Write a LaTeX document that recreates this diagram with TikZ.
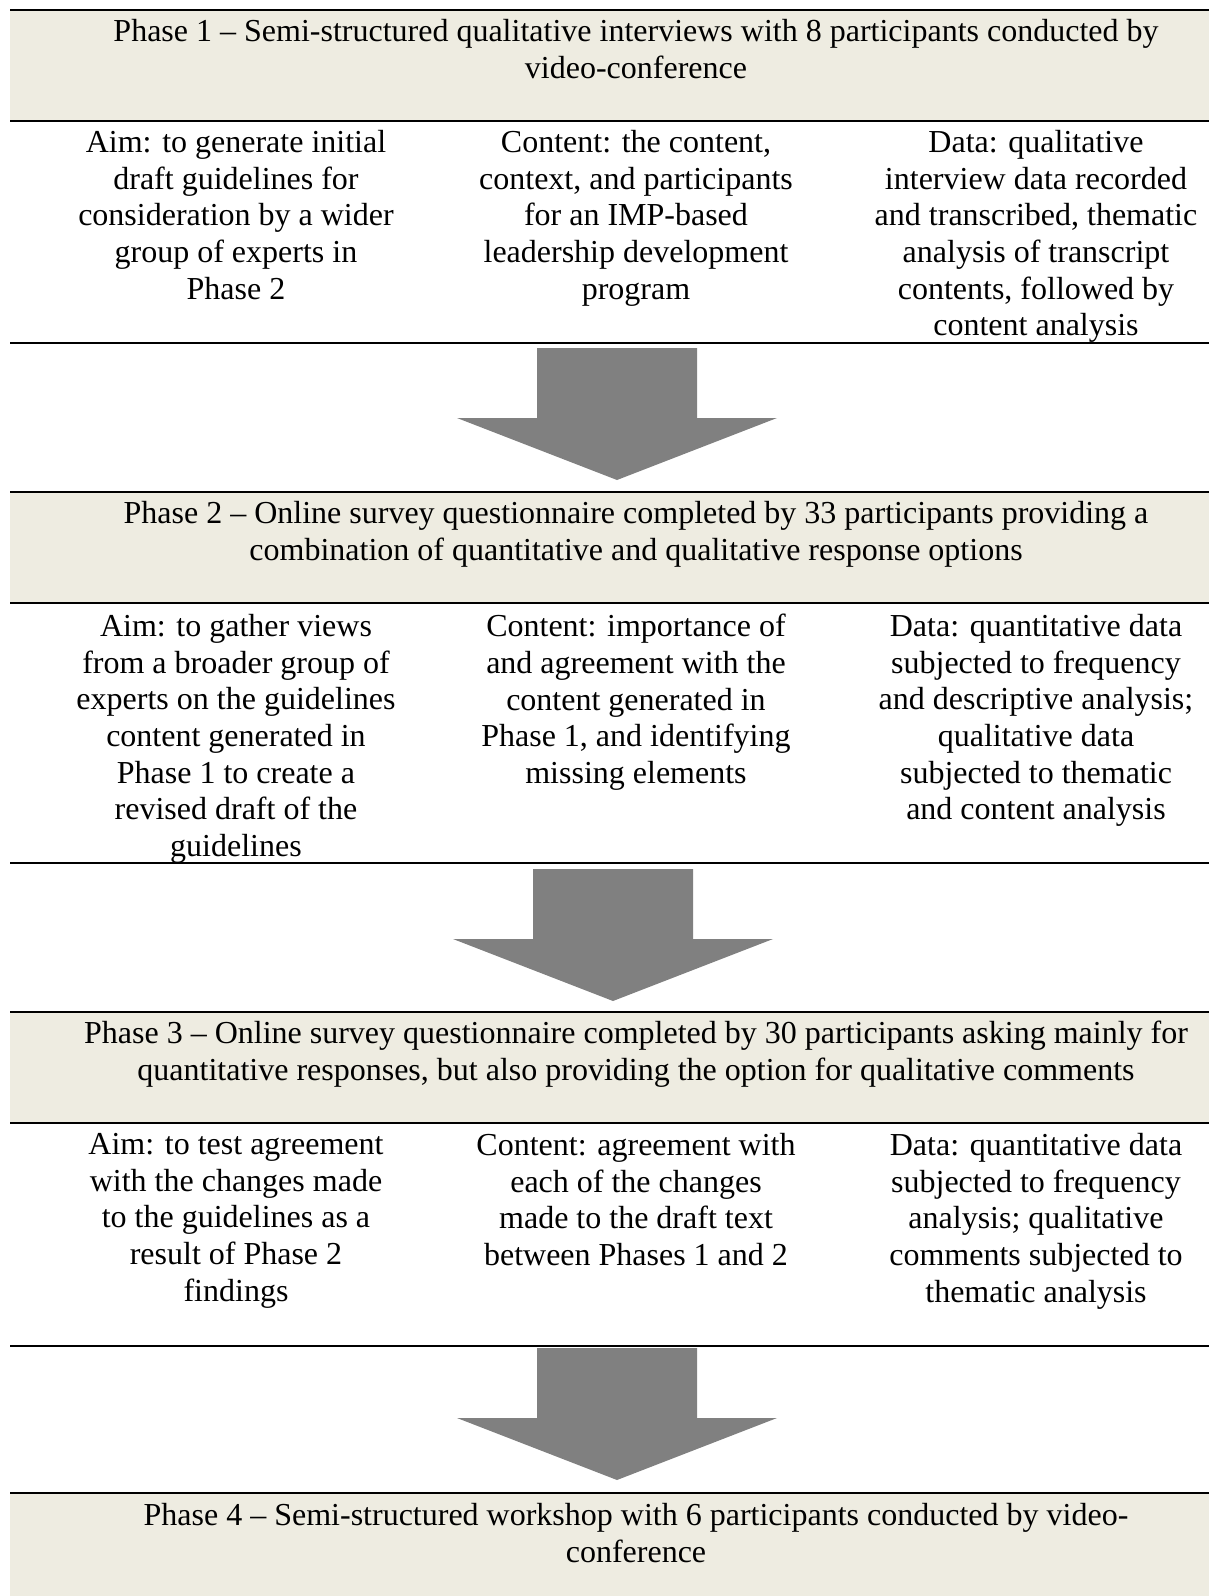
\documentclass[tikz,border=0pt]{standalone}
\usepackage{fontspec}
\setmainfont{Liberation Serif}
\usepackage{xcolor}
\usepackage{tikz}
\definecolor{bandbg}{HTML}{EEECE1}
\definecolor{arrowgray}{HTML}{808080}
\tikzset{
  cell/.style={anchor=north, align=center, inner sep=0pt,
    font=\fontsize{32}{36.7}\selectfont, execute at begin node=\strut},
  tablerule/.style={line width=2.5pt},
  blockarrow/.style={fill=arrowgray}
}

\begin{document}
\begin{tikzpicture}[x=1pt,y=-1pt]
        \useasboundingbox (0,0) rectangle (1209,1596);
        % shaded phase bands
    \foreach \t/\b in {10/121,492/603,1012/1123,1493/1596}
    \fill[bandbg] (10,\t) rectangle (1209,\b);
        % draw horizontal lines
    \foreach \y in {10,121,343,492,603,863,1012,1123,1346,1493}
    \draw[tablerule] (10,\y) -- (1209,\y);
        % block arrows between phases
    \foreach \cx/\ty in {617/348,613/869,617/1348}
    \fill[blockarrow] (\cx-80,\ty) -- (\cx+80,\ty) -- (\cx+80,\ty+70) -- (\cx+160,\ty+70)
      -- (\cx,\ty+132) -- (\cx-160,\ty+70) -- (\cx-80,\ty+70) -- cycle;
        % phase 1
    \node[cell] (head1) at (636,19) {Phase 1 – Semi-structured qualitative interviews with 8 participants conducted by\\video-conference};
    \node[cell] (aim1) at (236,130) {Aim: to generate initial\\draft guidelines for\\consideration by a wider\\group of experts in\\Phase 2};
    \node[cell] (content1) at (636,130) {Content: the content,\\context, and participants\\for an IMP-based\\leadership development\\program};
    \node[cell] (data1) at (1036,130) {Data: qualitative\\interview data recorded\\and transcribed, thematic\\analysis of transcript\\contents, followed by\\content analysis};
        % phase 2
    \node[cell] (head2) at (636,501) {Phase 2 – Online survey questionnaire completed by 33 participants providing a\\combination of quantitative and qualitative response options};
    \node[cell] (aim2) at (236,614) {Aim: to gather views\\from a broader group of\\experts on the guidelines\\content generated in\\Phase 1 to create a\\revised draft of the\\guidelines};
    \node[cell] (content2) at (636,614) {Content: importance of\\and agreement with the\\content generated in\\Phase 1, and identifying\\missing elements};
    \node[cell] (data2) at (1036,614) {Data: quantitative data\\subjected to frequency\\and descriptive analysis;\\qualitative data\\subjected to thematic\\and content analysis};
        % phase 3
    \node[cell] (head3) at (636,1021) {Phase 3 – Online survey questionnaire completed by 30 participants asking mainly for\\quantitative responses, but also providing the option for qualitative comments};
    \node[cell] (aim3) at (236,1133) {Aim: to test agreement\\with the changes made\\to the guidelines as a\\result of Phase 2\\findings};
    \node[cell] (content3) at (636,1133) {Content: agreement with\\each of the changes\\made to the draft text\\between Phases 1 and 2};
    \node[cell] (data3) at (1036,1133) {Data: quantitative data\\subjected to frequency\\analysis; qualitative\\comments subjected to\\thematic analysis};
        % phase 4
    \node[cell] (head4) at (636,1503) {Phase 4 – Semi-structured workshop with 6 participants conducted by video-\\conference};
\end{tikzpicture}
\end{document}
